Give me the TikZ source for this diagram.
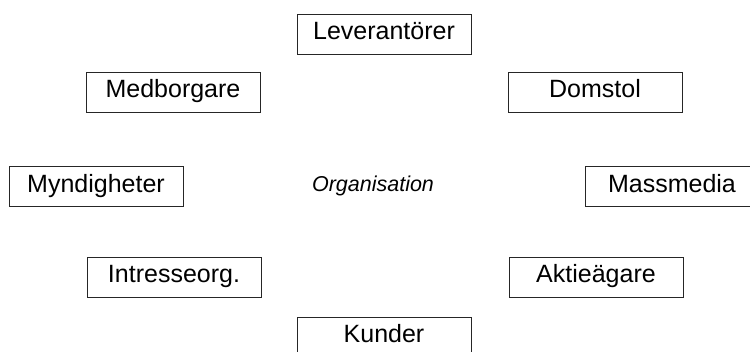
\documentclass[tikz,border=0pt]{standalone}
\usepackage{fontspec}
\setmainfont{Liberation Sans}
\usepackage{tikz}
\usetikzlibrary{positioning}

\begin{document}
\begin{tikzpicture}[x=1pt,y=-1pt,
    partbox/.style={draw=black!85, line width=0.8pt, minimum width=174pt,
      minimum height=40pt, inner sep=0pt, text height=15pt, text depth=4pt,
      font=\fontsize{25}{30}\selectfont},
    centrelabel/.style={font=\fontsize{21.5}{26}\selectfont\itshape}]
  \useasboundingbox (0,0) rectangle (750,351);

  % --- Organisationen i mitten ---
  \node[centrelabel, anchor=base] (org) at (373,191.7) {Organisation};

  % --- Intressenter runt om ---
  \node[partbox] (lev)  at (384,34)    {Leverant\"orer};
  \node[partbox] (medb) at (173,92)    {Medborgare};
  \node[partbox] (dom)  at (595,92)    {Domstol};
  \node[partbox] (mynd) at (96,186.5)  {Myndigheter};
  \node[partbox] (mass) at (672,186.5) {Massmedia};
  \node[partbox] (intr) at (174,277)   {Intresseorg.};
  \node[partbox] (akt)  at (596,277)   {Aktie\"agare};
  \node[partbox] (kund) at (384,337)   {Kunder};
\end{tikzpicture}
\end{document}
